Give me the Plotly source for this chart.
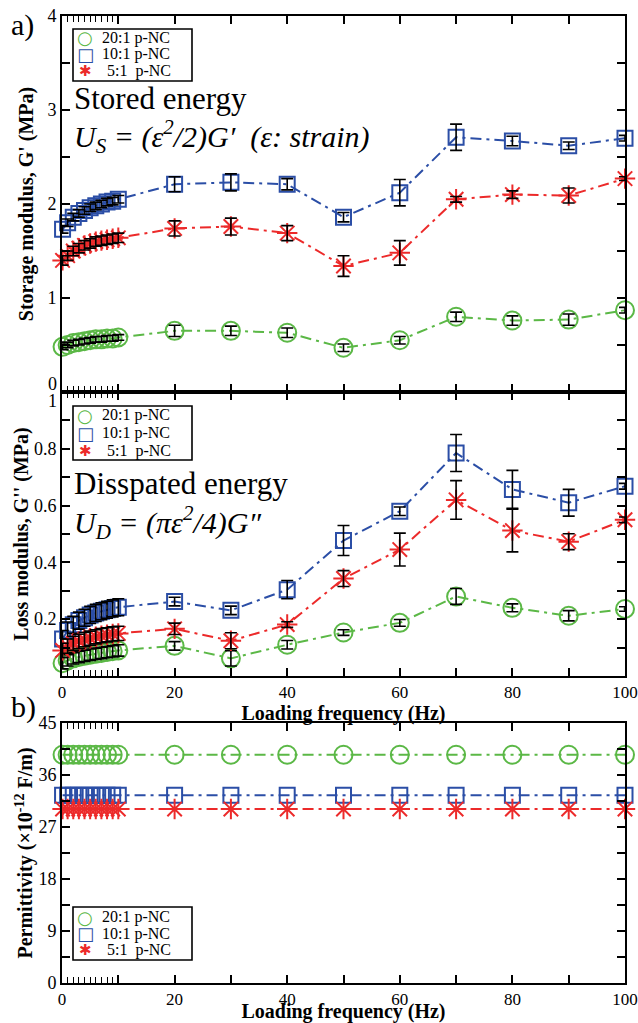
import plotly.graph_objects as go

# ---------------- data ----------------
freq = [0.1, 1, 2, 3, 4, 5, 6, 7, 8, 9, 10, 20, 30, 40, 50, 60, 70, 80, 90, 100]
series_names = ["20:1 p-NC", "10:1 p-NC", "5:1\u00a0\u00a0p-NC"]

# Storage modulus G' (MPa)
storage_20 = [0.48, 0.50, 0.52, 0.53, 0.54, 0.55, 0.56, 0.56, 0.57, 0.57, 0.58, 0.65, 0.65, 0.63, 0.47, 0.55, 0.80, 0.76, 0.77, 0.87]
storage_10 = [1.73, 1.80, 1.86, 1.90, 1.93, 1.96, 1.98, 2.00, 2.02, 2.03, 2.05, 2.21, 2.23, 2.21, 1.86, 2.12, 2.71, 2.67, 2.62, 2.70]
storage_5 = [1.40, 1.45, 1.50, 1.53, 1.56, 1.58, 1.60, 1.61, 1.62, 1.63, 1.64, 1.74, 1.76, 1.69, 1.34, 1.48, 2.05, 2.10, 2.09, 2.27]
storage_err_20 = [0.03, 0.03, 0.03, 0.03, 0.03, 0.03, 0.03, 0.03, 0.03, 0.03, 0.03, 0.06, 0.05, 0.05, 0.04, 0.04, 0.05, 0.05, 0.06, 0.03]
storage_err_10 = [0.04, 0.04, 0.04, 0.04, 0.04, 0.04, 0.04, 0.04, 0.04, 0.04, 0.04, 0.08, 0.09, 0.06, 0.05, 0.14, 0.14, 0.05, 0.04, 0.03]
storage_err_5 = [0.05, 0.05, 0.05, 0.05, 0.05, 0.05, 0.05, 0.05, 0.05, 0.05, 0.05, 0.08, 0.09, 0.08, 0.11, 0.13, 0.03, 0.04, 0.08, 0.02]

# Loss modulus G'' (MPa)
loss_20 = [0.045, 0.055, 0.062, 0.067, 0.071, 0.075, 0.078, 0.081, 0.084, 0.087, 0.090, 0.106, 0.062, 0.110, 0.153, 0.187, 0.280, 0.240, 0.212, 0.236]
loss_10 = [0.130, 0.160, 0.180, 0.195, 0.205, 0.215, 0.222, 0.228, 0.233, 0.238, 0.242, 0.262, 0.231, 0.304, 0.477, 0.580, 0.785, 0.657, 0.610, 0.668]
loss_5 = [0.090, 0.105, 0.115, 0.122, 0.128, 0.133, 0.138, 0.142, 0.145, 0.148, 0.150, 0.166, 0.124, 0.181, 0.343, 0.445, 0.620, 0.512, 0.473, 0.550]
loss_err_20 = [0.02, 0.02, 0.02, 0.02, 0.02, 0.02, 0.02, 0.02, 0.02, 0.02, 0.02, 0.015, 0.027, 0.015, 0.010, 0.012, 0.028, 0.014, 0.018, 0.008]
loss_err_10 = [0.03, 0.03, 0.03, 0.03, 0.03, 0.03, 0.03, 0.03, 0.03, 0.03, 0.03, 0.015, 0.015, 0.032, 0.053, 0.015, 0.065, 0.067, 0.047, 0.010]
loss_err_5 = [0.025, 0.025, 0.025, 0.025, 0.025, 0.025, 0.025, 0.025, 0.025, 0.025, 0.025, 0.020, 0.028, 0.010, 0.028, 0.058, 0.068, 0.075, 0.028, 0.010]

# Permittivity (x1e-12 F/m)
perm_20 = [39.5] * 20
perm_10 = [32.5] * 20
perm_5 = [30.1] * 20

# Tick labels
x_major = [0, 10, 20, 30, 40, 50, 60, 70, 80, 90, 100]
x_labels = ["0", "", "20", "", "40", "", "60", "", "80", "", "100"]
x_minor = [1, 2, 3, 4, 5, 6, 7, 8, 9]
storage_ticks = [0, 1, 2, 3, 4]
storage_labels = ["", "1", "2", "3", "4"]          # "0" drawn separately (offset above boundary)
loss_ticks = [0.2, 0.4, 0.6, 0.8, 1.0]
loss_labels = ["0.2", "0.4", "0.6", "0.8", ""]     # "1" drawn separately (offset below boundary)
perm_ticks = [0, 9, 18, 27, 36, 45]
perm_labels = ["0", "9", "18", "27", "36", "45"]

# ---------------- styling ----------------
GREEN = "#5BB846"
BLUE = "#2B4EA6"
RED = "#EC2A2A"
FONT = "Liberation Serif"
colors = [GREEN, BLUE, RED]
symbols = ["circle-open", "square-open", "asterisk-open"]
msizes = [18, 15, 17]
legend_glyphs = ["○", "□", "✱"]
legend_glyph_sizes = [18, 18, 15]
DASH = "11px,5px,3px,5px"

fig = go.Figure()


def add_series(x, y, err, color, symbol, size, xa, ya, name):
    fig.add_trace(go.Scatter(
        x=x, y=y, mode="lines+markers", xaxis=xa, yaxis=ya, showlegend=False, name=name,
        line=dict(color=color, width=2, dash=DASH),
        marker=dict(symbol=symbol, size=size, color=color, line=dict(color=color, width=2)),
        cliponaxis=False,
    ))
    if err is not None:
        fig.add_trace(go.Scatter(
            x=x, y=y, mode="markers", xaxis=xa, yaxis=ya, showlegend=False, name=name,
            marker=dict(size=1, color="rgba(0,0,0,0)"),
            error_y=dict(type="data", array=err, color="black", thickness=1.6, width=6),
            cliponaxis=False, hoverinfo="skip",
        ))


panels = [
    ("x", "y", [storage_20, storage_10, storage_5], [storage_err_20, storage_err_10, storage_err_5]),
    ("x2", "y2", [loss_20, loss_10, loss_5], [loss_err_20, loss_err_10, loss_err_5]),
    ("x3", "y3", [perm_20, perm_10, perm_5], [None, None, None]),
]
for xa, ya, ys, errs in panels:
    for i in range(3):
        add_series(freq, ys[i], errs[i], colors[i], symbols[i], msizes[i], xa, ya, series_names[i])

# ---------------- axes ----------------
tick_font = dict(family=FONT, size=18, color="black")
xtick_font = dict(family=FONT, size=17, color="black")
ytitle_font = dict(family=FONT, size=20, color="black")
xtitle_font = dict(family=FONT, size=20, color="black")

common_x = dict(range=[0, 100], tickmode="array", tickvals=x_major, ticktext=x_labels,
                ticks="inside", ticklen=8, tickwidth=1.6, tickcolor="black",
                showline=True, linecolor="black", linewidth=2, mirror="ticks",
                showgrid=False, zeroline=False, tickfont=xtick_font, automargin=False,
                ticklabeloverflow="allow",
                minor=dict(tickmode="array", tickvals=x_minor, ticks="inside", ticklen=6,
                           tickwidth=1.4, tickcolor="black", showgrid=False))
common_y = dict(ticks="inside", ticklen=8, tickwidth=1.6, tickcolor="black",
                showline=True, linecolor="black", linewidth=2, mirror="ticks",
                showgrid=False, zeroline=False, tickfont=tick_font, automargin=False,
                ticklabeloverflow="allow")


def yminor(vals):
    return dict(tickmode="array", tickvals=vals, ticks="inside", ticklen=8, tickwidth=1.6,
                tickcolor="black", showgrid=False)


d_a = [0.6112, 1.0]
d_b = [0.3175, 0.6112]
d_c = [0.0, 0.2689]

fig.update_layout(
    xaxis=dict(common_x, anchor="y", domain=[0, 1], showticklabels=False),
    yaxis=dict(common_y, anchor="x", domain=d_a, range=[0, 4], tickmode="array",
               tickvals=storage_ticks, ticktext=storage_labels,
               minor=yminor([0.5, 1.5, 2.5, 3.5]),
               title=dict(text="<b>Storage modulus, G' (MPa)</b>", font=ytitle_font, standoff=8)),
    xaxis2=dict(common_x, anchor="y2", domain=[0, 1],
                title=dict(text="<b>Loading frequency (Hz)</b>", font=xtitle_font, standoff=0)),
    yaxis2=dict(common_y, anchor="x2", domain=d_b, range=[0, 1], tickmode="array",
                tickvals=loss_ticks, ticktext=loss_labels,
                minor=yminor([0.1, 0.3, 0.5, 0.7, 0.9]),
                title=dict(text="<b>Loss modulus, G'' (MPa)</b>", font=ytitle_font, standoff=0)),
    xaxis3=dict(common_x, anchor="y3", domain=[0, 1],
                title=dict(text="<b>Loading frequency (Hz)</b>", font=xtitle_font, standoff=0)),
    yaxis3=dict(common_y, anchor="x3", domain=d_c, range=[0, 45], tickmode="array",
                tickvals=perm_ticks, ticktext=perm_labels,
                minor=yminor([4.5, 13.5, 22.5, 31.5, 40.5]),
                title=dict(text="<b>Permittivity (×10<sup>-12</sup> F/m)</b>", font=ytitle_font, standoff=0)),
)

# ---------------- pixel helpers (plot area spans x 62..625, y 16..983) ----------------
PW, PH, L, BOT = 563.0, 967.0, 62.0, 983.0


def px(xp):
    return (xp - L) / PW


def py(yp):
    return (BOT - yp) / PH


def ann(text, x, y, size, xanchor="left", yanchor="middle", color="black", family=FONT):
    fig.add_annotation(text=text, x=x, y=y, xref="paper", yref="paper", showarrow=False,
                       xanchor=xanchor, yanchor=yanchor, borderpad=0,
                       font=dict(family=family, size=size, color=color))


# boundary tick labels, nudged apart as in the reference
ann("0", px(58), py(384), 18, xanchor="right")
ann("1", px(58), py(401), 18, xanchor="right")

# ---------------- legends (boxed key, one per panel) ----------------
legend_boxes = [(29, 81, [37.5, 54, 71]), (406, 460, [415, 433, 451]), (907, 960, [917, 933.5, 950])]
for top, bottom, rows in legend_boxes:
    fig.add_shape(type="rect", xref="paper", yref="paper",
                  x0=px(73), x1=px(192), y0=py(bottom), y1=py(top),
                  line=dict(color="black", width=1.6), fillcolor="white", layer="above")
    for i, yr in enumerate(rows):
        ann(legend_glyphs[i], px(85), py(yr), legend_glyph_sizes[i], xanchor="center",
            color=colors[i], family="DejaVu Sans")
        ann(series_names[i], px(101 if i < 2 else 106), py(yr), 16)

# ---------------- annotations ----------------
ann("a)", px(10), py(25), 30)
ann("b)", px(10), py(707), 30)
ann("Stored energy", px(73), py(98), 31)
ann("<i>U<sub>S</sub> = (ε<sup>2</sup>/2)G′\u00a0\u00a0(ε: strain)</i>", px(73), py(137), 30)
ann("Disspated energy", px(73), py(483), 31)
ann("<i>U<sub>D</sub> = (πε<sup>2</sup>/4)G″</i>", px(73), py(522), 30)

fig.update_layout(
    width=638, height=1023,
    margin=dict(l=62, r=13, t=16, b=40),
    paper_bgcolor="white", plot_bgcolor="white",
    font=dict(family=FONT, color="black"),
    showlegend=False,
)

# remove the default 8 px page margin so the figure fills the window exactly
fig.write_html("out.html", config={"displayModeBar": False},
               post_script="document.body.style.margin='0';document.body.style.overflow='hidden';")
